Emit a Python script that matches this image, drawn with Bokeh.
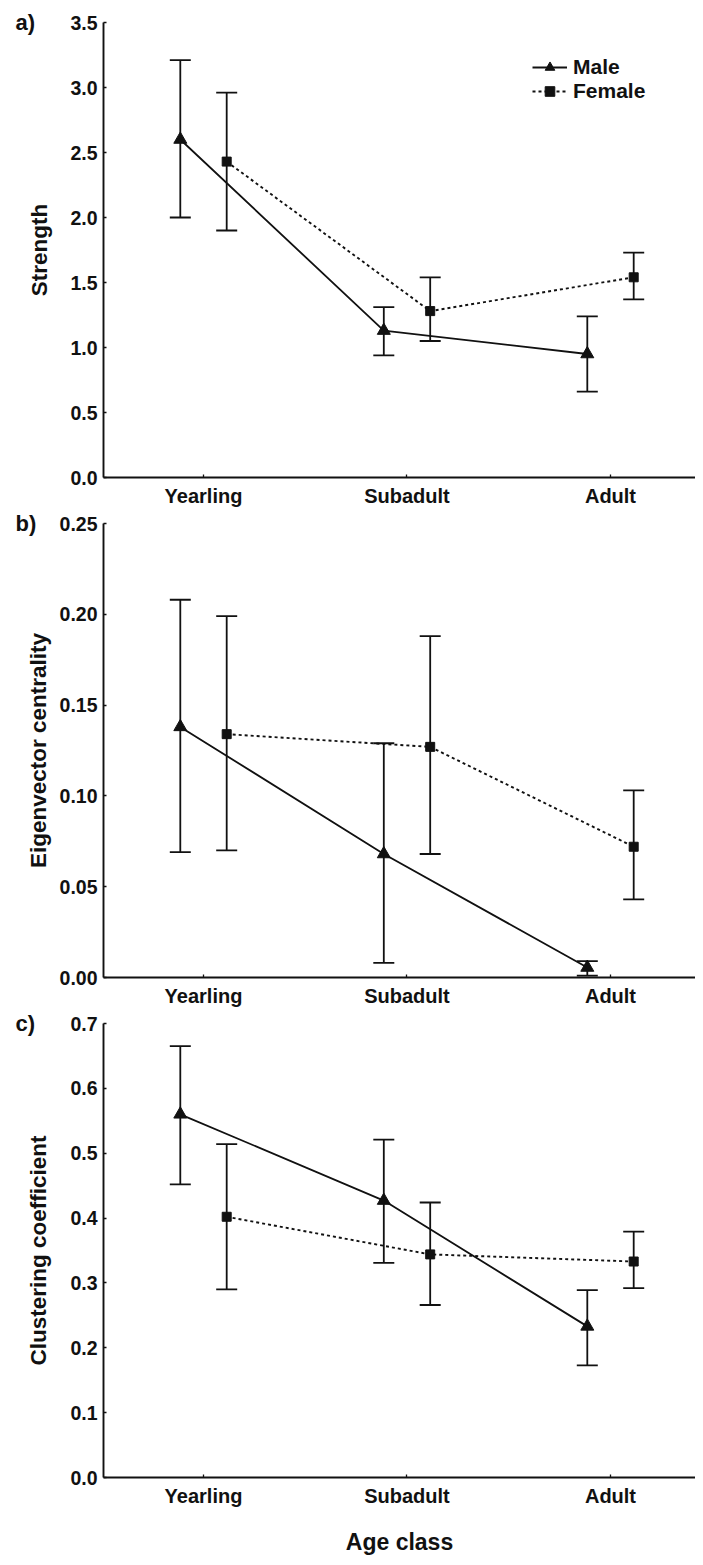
from bokeh.plotting import figure
from bokeh.models import (ColumnDataSource, Whisker, TeeHead, FixedTicker, Range1d,
                          Legend, LegendItem, Title, NumeralTickFormatter)
from bokeh.layouts import column
from bokeh.embed import file_html
from bokeh.resources import INLINE

# ---------------- data ----------------
categories = ["Yearling", "Subadult", "Adult"]
sexes = ["Male", "Female"]

strength_male = [2.60, 1.13, 0.95]
strength_male_lo = [2.00, 0.94, 0.66]
strength_male_hi = [3.21, 1.31, 1.24]
strength_female = [2.43, 1.28, 1.54]
strength_female_lo = [1.90, 1.05, 1.37]
strength_female_hi = [2.96, 1.54, 1.73]

eigen_male = [0.138, 0.068, 0.0055]
eigen_male_lo = [0.069, 0.008, 0.001]
eigen_male_hi = [0.208, 0.129, 0.009]
eigen_female = [0.134, 0.127, 0.072]
eigen_female_lo = [0.070, 0.068, 0.043]
eigen_female_hi = [0.199, 0.188, 0.103]

clust_male = [0.560, 0.427, 0.233]
clust_male_lo = [0.452, 0.331, 0.173]
clust_male_hi = [0.665, 0.521, 0.289]
clust_female = [0.402, 0.344, 0.333]
clust_female_lo = [0.290, 0.266, 0.292]
clust_female_hi = [0.514, 0.424, 0.379]

strength_ticks = [0.0, 0.5, 1.0, 1.5, 2.0, 2.5, 3.0, 3.5]
eigen_ticks = [0.0, 0.05, 0.10, 0.15, 0.20, 0.25]
clust_ticks = [0.0, 0.1, 0.2, 0.3, 0.4, 0.5, 0.6, 0.7]

# ---------------- style ----------------
FONT = "Liberation Sans"
INK = "#111111"
DODGE = 0.114
X_START, X_END = -0.4914, 2.4177
W = 695


def make_panel(tag, ylabel, male, male_lo, male_hi, female, female_lo, female_hi,
               ticks, fmt, height, top, title_standoff, legend=False, xlabel=None):
    p = figure(width=W, height=height, output_backend="svg", toolbar_location=None,
               x_range=Range1d(X_START, X_END), y_range=Range1d(ticks[0], ticks[-1]),
               min_border_left=103, min_border_right=0, min_border_top=top,
               min_border_bottom=0)
    p.outline_line_color = None
    p.grid.visible = False
    p.background_fill_color = "white"
    p.border_fill_color = "white"

    xs = list(range(len(categories)))
    xm = [x - DODGE for x in xs]
    xf = [x + DODGE for x in xs]

    srcm = ColumnDataSource(dict(x=xm, y=male, lo=male_lo, hi=male_hi))
    srcf = ColumnDataSource(dict(x=xf, y=female, lo=female_lo, hi=female_hi))

    for src in (srcm, srcf):
        wk = Whisker(source=src, base="x", upper="hi", lower="lo", dimension="height",
                     line_color=INK, line_width=1.8,
                     upper_head=TeeHead(size=21, line_color=INK, line_width=1.8),
                     lower_head=TeeHead(size=21, line_color=INK, line_width=1.8))
        p.add_layout(wk)

    lm = p.line("x", "y", source=srcm, line_color=INK, line_width=1.8)
    lf = p.line("x", "y", source=srcf, line_color=INK, line_width=1.9, line_dash="3 3")
    sm = p.scatter("x", "y", source=srcm, marker="triangle", size=13,
                   fill_color=INK, line_color=INK)
    sf = p.scatter("x", "y", source=srcf, marker="square", size=9,
                   fill_color=INK, line_color=INK)

    # axes
    for ax in (p.xaxis[0], p.yaxis[0]):
        ax.axis_line_color = INK
        ax.axis_line_width = 1.9
        ax.major_tick_line_color = INK
        ax.major_tick_line_width = 1.3
        ax.major_tick_in = 3
        ax.major_tick_out = 0
        ax.minor_tick_line_color = None
        ax.major_label_text_font = FONT
        ax.major_label_text_font_style = "bold"
        ax.major_label_text_color = INK
        ax.axis_label_text_font = FONT
        ax.axis_label_text_font_style = "bold"
        ax.axis_label_text_font_size = "22.5px"
        ax.axis_label_text_color = INK

    p.xaxis.ticker = FixedTicker(ticks=xs)
    p.xaxis.major_label_overrides = {i: c for i, c in enumerate(categories)}
    p.xaxis.major_label_standoff = 7
    p.xaxis.major_label_text_font_size = "20px"
    if xlabel:
        p.xaxis.axis_label = xlabel
        p.xaxis.axis_label_standoff = 19
        p.xaxis.axis_label_text_font_size = "23px"

    p.yaxis.ticker = FixedTicker(ticks=ticks)
    p.yaxis.formatter = NumeralTickFormatter(format=fmt)
    p.yaxis.major_label_standoff = 6
    p.yaxis.major_label_text_font_size = "19.5px"
    p.yaxis.axis_label = ylabel
    p.yaxis.axis_label_standoff = title_standoff

    # panel tag (a), b), c)) placed in the top side panel so it is not clipped
    p.add_layout(Title(text=tag, align="left", offset=-88, vertical_align="middle",
                       standoff=-27, text_font=FONT, text_font_style="bold",
                       text_font_size="22px", text_color=INK), "above")

    if legend:
        leg = Legend(items=[LegendItem(label=sexes[0], renderers=[lm, sm]),
                            LegendItem(label=sexes[1], renderers=[lf, sf])],
                     location=(429, 374), orientation="vertical",
                     glyph_width=35, glyph_height=24, label_height=24,
                     label_standoff=6, spacing=0, padding=0, margin=0,
                     border_line_color=None, background_fill_alpha=0,
                     label_text_font=FONT, label_text_font_style="bold",
                     label_text_font_size="21px", label_text_color=INK)
        p.add_layout(leg)
    return p


p1 = make_panel("a)", "Strength", strength_male, strength_male_lo, strength_male_hi,
                strength_female, strength_female_lo, strength_female_hi,
                strength_ticks, "0.0", height=509, top=22, title_standoff=15,
                legend=True)
p2 = make_panel("b)", "Eigenvector centrality", eigen_male, eigen_male_lo, eigen_male_hi,
                eigen_female, eigen_female_lo, eigen_female_hi,
                eigen_ticks, "0.00", height=500, top=14, title_standoff=6)
p3 = make_panel("c)", "Clustering coefficient", clust_male, clust_male_lo, clust_male_hi,
                clust_female, clust_female_lo, clust_female_hi,
                clust_ticks, "0.0", height=548, top=14, title_standoff=16,
                xlabel="Age class")

layout = column(p1, p2, p3, spacing=0)

with open("out.html", "w") as f:
    f.write(file_html(layout, INLINE))
